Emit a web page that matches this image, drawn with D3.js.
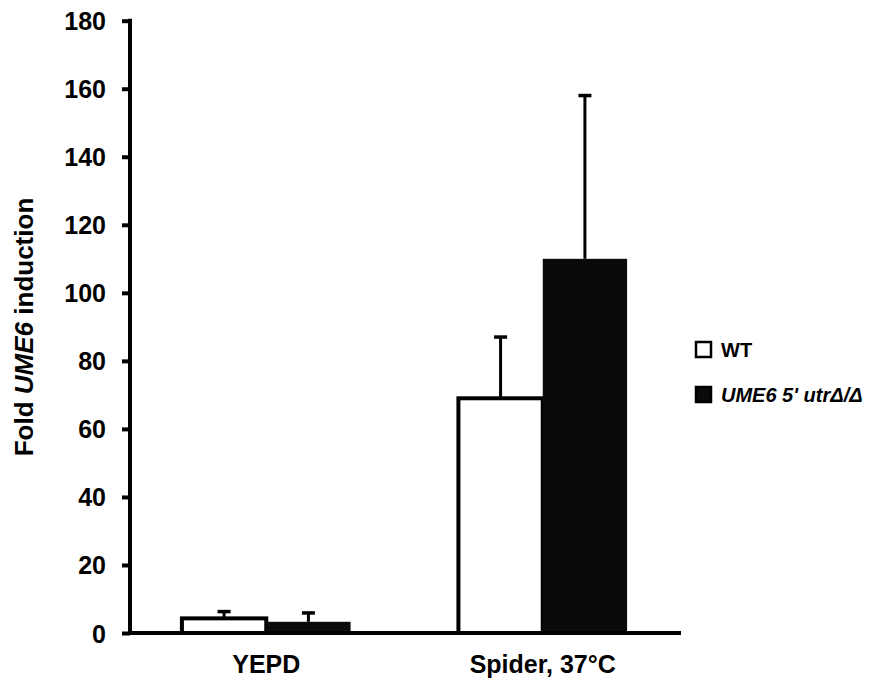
<!DOCTYPE html>
<html>
<head>
<meta charset="utf-8">
<script src="https://cdn.jsdelivr.net/npm/d3@7"></script>
<style>
  body { margin: 0; background: #fff; }
  svg text { font-family: "Liberation Sans", Arial, sans-serif; font-weight: bold; fill: #000; }
</style>
</head>
<body>
<div id="canvas"></div>
<script>
// data
let conditions = ["YEPD", "Spider, 37°C"];
let strains = ["WT", "UME6 5' utrΔ/Δ"];
let wtMean = [4.3, 69];
let wtErr = [2, 18];
let mutMean = [3.3, 110];
let mutErr = [2.6, 48];
let yTicks = [0, 20, 40, 60, 80, 100, 120, 140, 160, 180];

let width = 878;
let height = 679;

let rows = [];
conditions.forEach((c, i) => {
  rows.push({ cond: c, strain: strains[0], mean: wtMean[i], err: wtErr[i] });
  rows.push({ cond: c, strain: strains[1], mean: mutMean[i], err: mutErr[i] });
});

let escalaY = d3.scaleLinear()
  .domain([0, 180])
  .range([633, 20.7]);

let escalaX = d3.scaleBand()
  .domain(conditions)
  .range([128, 681])
  .paddingInner(0.39)
  .paddingOuter(0.195);

let escalaSerie = d3.scaleBand()
  .domain(strains)
  .range([0, escalaX.bandwidth()]);

let escalaColor = d3.scaleOrdinal()
  .domain(strains)
  .range(["#fff", "#0a0a0a"]);

let svg = d3.select("#canvas")
  .append("svg")
  .attr("width", width)
  .attr("height", height);

// bars
svg.selectAll("rect.bar")
  .data(rows)
  .enter()
  .append("rect")
  .attr("class", "bar")
  .attr("x", d => escalaX(d.cond) + escalaSerie(d.strain))
  .attr("y", d => escalaY(d.mean))
  .attr("width", escalaSerie.bandwidth())
  .attr("height", d => escalaY(0) - escalaY(d.mean))
  .attr("fill", d => escalaColor(d.strain))
  .attr("stroke", d => d.strain === strains[0] ? "#000" : "none")
  .attr("stroke-width", 4);

// error bars (upper only)
let err = svg.selectAll("g.err")
  .data(rows)
  .enter()
  .append("g")
  .attr("class", "err");

err.append("line")
  .attr("x1", d => escalaX(d.cond) + escalaSerie(d.strain) + escalaSerie.bandwidth() / 2)
  .attr("x2", d => escalaX(d.cond) + escalaSerie(d.strain) + escalaSerie.bandwidth() / 2)
  .attr("y1", d => escalaY(d.mean))
  .attr("y2", d => escalaY(d.mean + d.err))
  .attr("stroke", "#000")
  .attr("stroke-width", 3);

err.append("line")
  .attr("x1", d => escalaX(d.cond) + escalaSerie(d.strain) + escalaSerie.bandwidth() / 2 - 6.5)
  .attr("x2", d => escalaX(d.cond) + escalaSerie(d.strain) + escalaSerie.bandwidth() / 2 + 6.5)
  .attr("y1", d => escalaY(d.mean + d.err))
  .attr("y2", d => escalaY(d.mean + d.err))
  .attr("stroke", "#000")
  .attr("stroke-width", 3.5);

// y axis
let ejeY = d3.axisLeft(escalaY)
  .tickValues(yTicks)
  .tickSize(8)
  .tickPadding(16)
  .tickSizeOuter(0);

let gY = svg.append("g")
  .attr("transform", "translate(130,0)")
  .call(ejeY);
gY.select(".domain").attr("stroke-width", 4).attr("d", "M0," + (escalaY(180) - 2) + "V" + (escalaY(0) + 2));
gY.selectAll(".tick line").attr("stroke-width", 4);
gY.selectAll(".tick text")
  .style("font-size", "25px")
  .attr("dy", "0.36em");

// x axis baseline
svg.append("line")
  .attr("x1", 128)
  .attr("x2", 681)
  .attr("y1", escalaY(0))
  .attr("y2", escalaY(0))
  .attr("stroke", "#000")
  .attr("stroke-width", 4);

// category labels
svg.selectAll("text.cat")
  .data(conditions)
  .enter()
  .append("text")
  .attr("class", "cat")
  .attr("x", d => escalaX(d) + escalaX.bandwidth() / 2)
  .attr("y", 673)
  .attr("text-anchor", "middle")
  .style("font-size", "25px")
  .text(d => d);

// y label
let yLabel = svg.append("text")
  .attr("transform", "translate(33,327) rotate(-90)")
  .attr("text-anchor", "middle")
  .style("font-size", "26px");
yLabel.append("tspan").text("Fold ");
yLabel.append("tspan").style("font-style", "italic").text("UME6");
yLabel.append("tspan").text(" induction");

// legend
let leyenda = svg.selectAll("g.leg")
  .data(strains)
  .enter()
  .append("g")
  .attr("class", "leg")
  .attr("transform", (d, i) => "translate(696," + (342 + i * 45) + ")");

leyenda.append("rect")
  .attr("x", 0)
  .attr("y", 0)
  .attr("width", 15)
  .attr("height", 15)
  .attr("fill", d => escalaColor(d))
  .attr("stroke", "#000")
  .attr("stroke-width", 2.5);

leyenda.append("text")
  .attr("x", 25)
  .attr("y", 15)
  .style("font-size", "20px")
  .style("font-style", (d, i) => i === 1 ? "italic" : "normal")
  .text(d => d);
</script>
</body>
</html>
